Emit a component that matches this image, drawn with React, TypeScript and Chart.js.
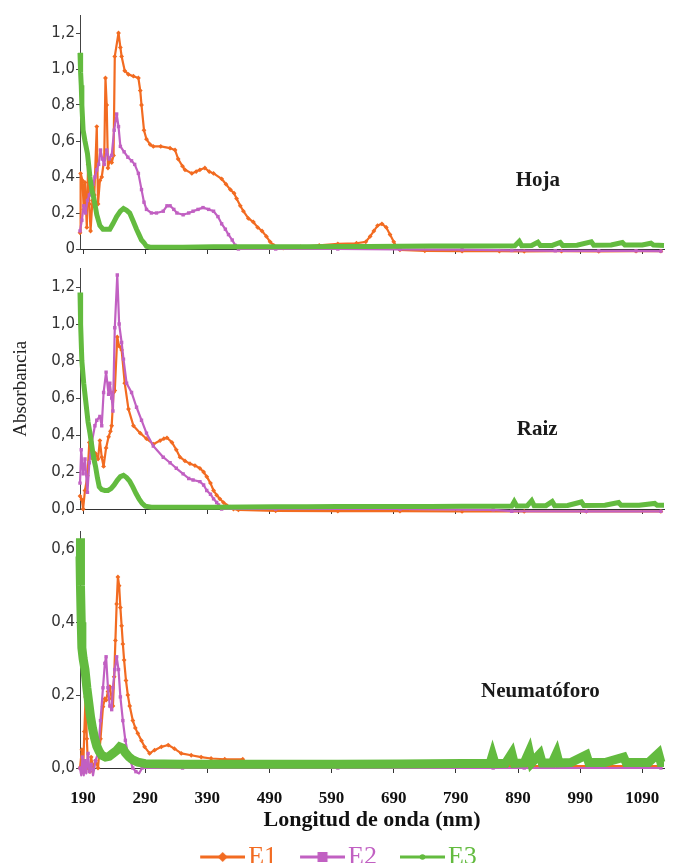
import React, { useEffect, useRef } from "react";
import { Chart, registerables } from "chart.js";

Chart.register(...registerables);

// ---------- categories / ticks ----------
const seriesNames = ["E1", "E2", "E3"];
const xTickValues = [190, 290, 390, 490, 590, 690, 790, 890, 990, 1090];
const xTickLabels = ["190", "290", "390", "490", "590", "690", "790", "890", "990", "1090"];
const hojaTickValues = [0, 0.2, 0.4, 0.6, 0.8, 1.0, 1.2];
const hojaTickLabels = ["0", "0,2", "0,4", "0,6", "0,8", "1,0", "1,2"];
const raizTickValues = [0, 0.2, 0.4, 0.6, 0.8, 1.0, 1.2];
const raizTickLabels = ["0,0", "0,2", "0,4", "0,6", "0,8", "1,0", "1,2"];
const neumTickValues = [0, 0.2, 0.4, 0.6];
const neumTickLabels = ["0,0", "0,2", "0,4", "0,6"];

// ---------- series: [wavelength nm, absorbance] ----------
const hojaE1: [number, number][] = [
  [185, 0.09], [186, 0.42], [189, 0.38], [191, 0.22], [193, 0.37], [196, 0.12], [198, 0.47], [200, 0.25],
  [202, 0.1], [205, 0.27], [208, 0.3], [212, 0.68], [214, 0.25], [217, 0.38], [220, 0.4], [224, 0.5],
  [226, 0.95], [228, 0.8], [230, 0.45], [233, 0.5], [236, 0.48], [239, 0.52], [241, 1.07], [247, 1.2],
  [250, 1.12], [252, 1.07], [257, 0.99], [263, 0.97], [271, 0.96], [279, 0.95], [282, 0.88], [284, 0.8],
  [288, 0.66], [292, 0.61], [298, 0.58], [303, 0.57], [315, 0.57], [330, 0.56], [338, 0.55], [343, 0.5],
  [350, 0.46], [354, 0.44], [365, 0.42], [372, 0.43], [378, 0.44], [386, 0.45], [393, 0.43], [400, 0.42],
  [413, 0.39], [420, 0.36], [427, 0.33], [433, 0.31], [437, 0.28], [443, 0.24], [448, 0.21], [456, 0.17],
  [464, 0.15], [471, 0.12], [478, 0.1], [485, 0.07], [491, 0.04], [497, 0.02], [502, 0.01], [512, 0.005],
  [540, 0.012], [570, 0.02], [600, 0.028], [630, 0.032], [645, 0.04], [652, 0.07], [658, 0.1], [664, 0.13],
  [671, 0.14], [678, 0.12], [684, 0.08], [690, 0.04], [695, 0.01], [700, -0.005], [740, -0.01], [800, -0.012],
  [860, -0.012], [900, -0.013], [960, -0.012], [1020, -0.013], [1080, -0.012], [1120, -0.012],
];
const hojaE2: [number, number][] = [
  [185, 0.1], [188, 0.16], [191, 0.24], [194, 0.2], [197, 0.27], [200, 0.3], [203, 0.33], [206, 0.36],
  [209, 0.4], [212, 0.44], [215, 0.47], [218, 0.55], [221, 0.5], [224, 0.47], [228, 0.55], [232, 0.5],
  [236, 0.52], [240, 0.66], [244, 0.75], [247, 0.68], [250, 0.57], [256, 0.54], [262, 0.51], [268, 0.49],
  [273, 0.47], [279, 0.42], [284, 0.33], [288, 0.26], [292, 0.22], [300, 0.2], [308, 0.2], [319, 0.21],
  [325, 0.24], [330, 0.24], [336, 0.22], [341, 0.2], [351, 0.19], [360, 0.2], [367, 0.21], [375, 0.22],
  [383, 0.23], [392, 0.22], [400, 0.21], [407, 0.18], [413, 0.14], [419, 0.11], [424, 0.08], [430, 0.05],
  [435, 0.02], [440, 0.0], [500, 0.0], [600, 0.0], [700, -0.002], [800, -0.004], [880, -0.008], [950, -0.01],
  [1020, -0.01], [1080, -0.01], [1120, -0.012],
];
const hojaE3: [number, number][] = [
  [185, 1.09], [186, 0.98], [187, 0.91], [188, 0.8], [190, 0.66], [193, 0.6], [197, 0.53], [201, 0.4],
  [204, 0.33], [208, 0.27], [212, 0.19], [217, 0.13], [222, 0.11], [228, 0.11], [233, 0.11], [238, 0.14],
  [244, 0.18], [250, 0.21], [255, 0.225], [260, 0.215], [265, 0.2], [270, 0.16], [276, 0.11], [280, 0.08],
  [284, 0.05], [288, 0.035], [292, 0.015], [298, 0.01], [350, 0.01], [400, 0.012], [450, 0.012], [500, 0.012],
  [550, 0.013], [600, 0.014], [650, 0.014], [700, 0.015], [750, 0.016], [800, 0.016], [850, 0.017], [885, 0.018],
  [892, 0.042], [896, 0.018], [912, 0.02], [922, 0.038], [926, 0.02], [945, 0.02], [958, 0.036], [962, 0.02],
  [985, 0.021], [1008, 0.04], [1012, 0.021], [1040, 0.022], [1058, 0.036], [1062, 0.022], [1090, 0.022],
  [1104, 0.032], [1108, 0.022], [1125, 0.02],
];

const raizE1: [number, number][] = [
  [185, 0.07], [188, 0.05], [190, 0.0], [193, 0.1], [197, 0.18], [200, 0.36], [203, 0.3], [206, 0.27],
  [210, 0.3], [214, 0.27], [217, 0.37], [220, 0.28], [223, 0.23], [227, 0.33], [231, 0.39], [234, 0.42],
  [236, 0.45], [239, 0.63], [241, 0.64], [245, 0.93], [248, 0.88], [252, 0.86], [257, 0.68], [263, 0.54],
  [271, 0.45], [282, 0.41], [292, 0.38], [303, 0.35], [314, 0.37], [320, 0.38], [325, 0.385], [333, 0.36],
  [340, 0.32], [346, 0.28], [354, 0.26], [362, 0.245], [370, 0.235], [378, 0.22], [384, 0.2], [389, 0.175],
  [395, 0.14], [400, 0.1], [405, 0.075], [410, 0.055], [416, 0.035], [421, 0.02], [427, 0.01], [432, 0.0],
  [440, -0.005], [500, -0.01], [600, -0.012], [700, -0.012], [800, -0.013], [900, -0.013], [1000, -0.013],
  [1120, -0.013],
];
const raizE2: [number, number][] = [
  [185, 0.14], [187, 0.32], [190, 0.19], [193, 0.27], [197, 0.09], [200, 0.25], [204, 0.36], [209, 0.45],
  [212, 0.48], [217, 0.5], [220, 0.45], [223, 0.63], [227, 0.74], [231, 0.62], [233, 0.68], [236, 0.6],
  [238, 0.53], [241, 0.98], [245, 1.265], [248, 1.0], [252, 0.9], [255, 0.81], [260, 0.68], [268, 0.63],
  [276, 0.55], [284, 0.48], [292, 0.41], [303, 0.34], [319, 0.28], [330, 0.25], [340, 0.22], [351, 0.19],
  [360, 0.165], [367, 0.157], [378, 0.148], [384, 0.13], [389, 0.1], [395, 0.08], [400, 0.055], [405, 0.035],
  [408, 0.022], [413, 0.0], [500, 0.0], [700, 0.0], [850, -0.005], [880, -0.012], [1000, -0.013], [1120, -0.013],
];
const raizE3: [number, number][] = [
  [185, 1.17], [186, 1.0], [188, 0.8], [191, 0.68], [194, 0.59], [198, 0.47], [201, 0.41], [205, 0.32],
  [208, 0.26], [210, 0.23], [213, 0.17], [216, 0.12], [220, 0.105], [225, 0.1], [230, 0.1], [235, 0.11],
  [240, 0.13], [245, 0.155], [250, 0.175], [255, 0.182], [260, 0.17], [265, 0.15], [270, 0.12], [275, 0.085],
  [280, 0.055], [285, 0.03], [290, 0.015], [300, 0.01], [350, 0.01], [400, 0.01], [450, 0.011], [500, 0.012],
  [550, 0.012], [600, 0.013], [650, 0.013], [700, 0.014], [750, 0.014], [800, 0.015], [850, 0.015], [880, 0.016],
  [884, 0.04], [888, 0.016], [905, 0.018], [912, 0.045], [916, 0.018], [935, 0.018], [945, 0.04], [949, 0.018],
  [970, 0.019], [992, 0.038], [996, 0.019], [1030, 0.02], [1052, 0.035], [1056, 0.02], [1085, 0.02],
  [1110, 0.03], [1114, 0.02], [1125, 0.02],
];

const neumE1: [number, number][] = [
  [185, 0.0], [188, 0.05], [190, -0.01], [192, 0.1], [194, 0.195], [196, 0.08], [198, 0.0], [201, -0.01],
  [203, 0.03], [206, 0.0], [210, 0.02], [214, 0.0], [218, 0.08], [222, 0.168], [225, 0.19], [227, 0.186],
  [230, 0.21], [233, 0.223], [236, 0.19], [238, 0.17], [240, 0.25], [242, 0.35], [244, 0.45], [246, 0.524],
  [248, 0.5], [250, 0.44], [252, 0.39], [254, 0.34], [256, 0.296], [259, 0.24], [262, 0.2], [265, 0.17],
  [270, 0.13], [274, 0.11], [278, 0.095], [284, 0.075], [289, 0.058], [297, 0.04], [305, 0.049], [316, 0.058],
  [327, 0.063], [337, 0.053], [348, 0.04], [364, 0.035], [380, 0.03], [396, 0.026], [418, 0.024], [447, 0.024],
  [452, 0.005], [500, 0.005], [700, 0.005], [900, 0.005], [1120, 0.005],
];
const neumE2: [number, number][] = [
  [185, 0.0], [187, -0.02], [189, 0.03], [191, -0.02], [193, 0.02], [195, -0.015], [198, 0.04], [200, -0.01],
  [203, 0.01], [206, -0.02], [210, 0.02], [214, 0.04], [218, 0.13], [222, 0.22], [225, 0.287], [227, 0.305],
  [230, 0.22], [233, 0.17], [236, 0.16], [238, 0.22], [241, 0.27], [244, 0.305], [247, 0.27], [250, 0.195],
  [254, 0.13], [258, 0.076], [262, 0.04], [266, 0.02], [270, 0.0], [275, -0.01], [280, -0.015], [285, 0.0],
  [350, 0.0], [600, 0.0], [850, 0.0], [900, 0.0], [1120, 0.0],
];
const neumE3: [number, number][] = [
  [185, 0.58], [185.5, 0.63], [186, 0.5], [187, 0.4], [188, 0.33], [190, 0.3], [193, 0.27], [196, 0.22],
  [199, 0.18], [202, 0.14], [205, 0.11], [208, 0.085], [212, 0.06], [216, 0.045], [220, 0.035], [226, 0.03],
  [232, 0.032], [238, 0.04], [244, 0.048], [249, 0.058], [253, 0.055], [258, 0.042], [264, 0.03], [270, 0.022],
  [278, 0.016], [290, 0.012], [350, 0.01], [400, 0.01], [500, 0.01], [600, 0.01], [700, 0.011], [800, 0.012],
  [845, 0.012], [849, 0.035], [853, 0.012], [870, 0.013], [880, 0.04], [884, 0.013], [900, 0.014], [908, 0.045],
  [912, 0.014], [925, 0.038], [929, 0.014], [945, 0.014], [952, 0.04], [956, 0.014], [975, 0.015], [1000, 0.036],
  [1004, 0.015], [1030, 0.015], [1060, 0.03], [1064, 0.015], [1100, 0.015], [1116, 0.04], [1120, 0.015],
  [1125, 0.015],
];

// ---------- styles ----------
const seriesColors = ["#f26b21", "#c160c2", "#63bb3f"];
const pointStyles = ["rectRot", "rect", "triangle"];
const X_MIN = 185;
const X_MAX = 1125;

type PanelCfg = {
  key: string;
  top: number;
  height: number;
  padTop: number;
  xHeight: number;
  yMax: number;
  tickValues: number[];
  tickLabels: string[];
  series: [number, number][][];
  label: string;
  labelAt: [number, number];
  greenWidth: number;
  showX: boolean;
  yTitle: boolean;
  legend: boolean;
};

const PANELS: PanelCfg[] = [
  {
    key: "hoja", top: 0, height: 262, padTop: 15, xHeight: 13, yMax: 1.3,
    tickValues: hojaTickValues, tickLabels: hojaTickLabels, series: [hojaE1, hojaE2, hojaE3],
    label: "Hoja", labelAt: [922, 0.38], greenWidth: 5, showX: false, yTitle: false, legend: false,
  },
  {
    key: "raiz", top: 245, height: 275, padTop: 23.5, xHeight: 11, yMax: 1.3,
    tickValues: raizTickValues, tickLabels: raizTickLabels, series: [raizE1, raizE2, raizE3],
    label: "Raiz", labelAt: [921, 0.43], greenWidth: 5, showX: false, yTitle: true, legend: false,
  },
  {
    key: "neum", top: 505, height: 375, padTop: 26, xHeight: 66, yMax: 0.65,
    tickValues: neumTickValues, tickLabels: neumTickLabels, series: [neumE1, neumE2, neumE3],
    label: "Neumatóforo", labelAt: [926, 0.21], greenWidth: 9, showX: true, yTitle: false, legend: true,
  },
];

const panelLabelPlugin = {
  id: "panelLabel",
  afterDatasetsDraw(chart: any, _args: any, opts: any) {
    if (!opts || !opts.text) return;
    const { ctx, scales } = chart;
    const px = scales.x.getPixelForValue(opts.x);
    const py = scales.y.getPixelForValue(opts.y);
    ctx.save();
    ctx.font = "bold 21px 'Liberation Serif', 'Times New Roman', serif";
    ctx.fillStyle = "#1a1a1a";
    ctx.textAlign = "center";
    ctx.textBaseline = "middle";
    ctx.fillText(opts.text, px, py);
    ctx.restore();
  },
};

// legend glyph: a line with the series marker, drawn to sit just left of the label text
function makeLegendImage(i: number): HTMLCanvasElement {
  const c = document.createElement("canvas");
  c.width = 68;
  c.height = 16;
  const g = c.getContext("2d")!;
  const col = seriesColors[i];
  g.strokeStyle = col;
  g.fillStyle = col;
  g.lineWidth = 3;
  g.beginPath();
  g.moveTo(23, 8);
  g.lineTo(68, 8);
  g.stroke();
  const cx = 45.5;
  if (i === 0) {
    g.beginPath();
    g.moveTo(cx, 3);
    g.lineTo(cx + 5, 8);
    g.lineTo(cx, 13);
    g.lineTo(cx - 5, 8);
    g.closePath();
    g.fill();
  } else if (i === 1) {
    g.fillRect(cx - 5, 3, 10, 10);
  } else {
    g.beginPath();
    g.arc(cx, 8, 2.8, 0, Math.PI * 2);
    g.fill();
  }
  return c;
}

function buildConfig(p: PanelCfg): any {
  const legendImages = [0, 1, 2].map(makeLegendImage);
  const datasets = p.series.map((pairs, i) => ({
    label: seriesNames[i],
    data: pairs.map(([x, y]) => ({ x, y })),
    borderColor: seriesColors[i],
    backgroundColor: seriesColors[i],
    borderWidth: i === 2 ? p.greenWidth : 2.2,
    pointRadius: i === 2 ? 0 : 2.4,
    pointStyle: pointStyles[i],
    pointBorderWidth: 0,
    borderJoinStyle: i === 2 ? "miter" : "round",
    borderCapStyle: "butt",
    order: 3 - i,
    clip: 12,
    tension: 0,
  }));
  return {
    type: "line",
    data: { datasets },
    options: {
      animation: false,
      responsive: false,
      maintainAspectRatio: false,
      events: [],
      layout: { padding: { top: p.padTop, right: 17, left: 0, bottom: 0 } },
      scales: {
        x: {
          type: "linear",
          min: X_MIN,
          max: X_MAX,
          afterBuildTicks: (s: any) => {
            s.ticks = xTickValues.map((v) => ({ value: v }));
          },
          afterFit: (s: any) => {
            s.height = p.xHeight;
          },
          grid: { drawOnChartArea: false, drawTicks: true, tickLength: 5, color: "#333" },
          border: { display: true, color: "#333", width: 1 },
          ticks: {
            display: p.showX,
            autoSkip: false,
            maxRotation: 0,
            padding: 15,
            color: "#111",
            font: { family: "'Liberation Serif', 'Times New Roman', serif", size: 17, weight: "bold" },
            callback: (_v: any, i: number) => xTickLabels[i],
          },
          title: {
            display: p.showX,
            text: "Longitud de onda (nm)",
            color: "#111",
            font: { family: "'Liberation Serif', 'Times New Roman', serif", size: 22, weight: "bold" },
            padding: { top: 0, bottom: 0 },
          },
        },
        y: {
          type: "linear",
          min: 0,
          max: p.yMax,
          afterBuildTicks: (s: any) => {
            s.ticks = p.tickValues.map((v) => ({ value: v }));
          },
          afterFit: (s: any) => {
            s.width = 80;
          },
          grid: { drawOnChartArea: false, drawTicks: true, tickLength: 4, color: "#444" },
          border: { display: true, color: "#444", width: 1 },
          ticks: {
            autoSkip: false,
            padding: 1,
            color: "#333",
            font: { family: "'DejaVu Sans', sans-serif", size: 15 },
            callback: (_v: any, i: number) => p.tickLabels[i],
          },
          title: {
            display: p.yTitle,
            text: "Absorbancia",
            color: "#222",
            font: { family: "'Liberation Serif', 'Times New Roman', serif", size: 19 },
            padding: { top: 10, bottom: 0 },
          },
        },
      },
      plugins: {
        tooltip: { enabled: false },
        panelLabel: { text: p.label, x: p.labelAt[0], y: p.labelAt[1] },
        legend: {
          display: p.legend,
          position: "bottom",
          labels: {
            usePointStyle: true,
            pointStyleWidth: 48,
            padding: 10,
            font: { family: "'Liberation Serif', 'Times New Roman', serif", size: 26 },
            generateLabels: (chart: any) =>
              chart.data.datasets.map((ds: any, i: number) => ({
                text: ds.label,
                fillStyle: seriesColors[i],
                strokeStyle: seriesColors[i],
                lineWidth: 0,
                pointStyle: legendImages[i],
                fontColor: seriesColors[i],
                hidden: false,
                datasetIndex: i,
              })),
          },
        },
      },
    },
    plugins: [panelLabelPlugin],
  };
}

function Panel({ cfg }: { cfg: PanelCfg }) {
  const ref = useRef<HTMLCanvasElement>(null);
  useEffect(() => {
    const canvas = ref.current;
    if (!canvas) return;
    const chart = new Chart(canvas, buildConfig(cfg));
    return () => chart.destroy();
  }, [cfg]);
  return (
    <canvas
      ref={ref}
      width={681}
      height={cfg.height}
      style={{ position: "absolute", left: 0, top: cfg.top, width: 681, height: cfg.height, display: "block" }}
    />
  );
}

export default function App() {
  return (
    <div
      style={{
        position: "absolute",
        left: 0,
        top: 0,
        width: 681,
        height: 863,
        overflow: "hidden",
        background: "#ffffff",
      }}
    >
      {PANELS.map((p) => (
        <Panel key={p.key} cfg={p} />
      ))}
    </div>
  );
}
